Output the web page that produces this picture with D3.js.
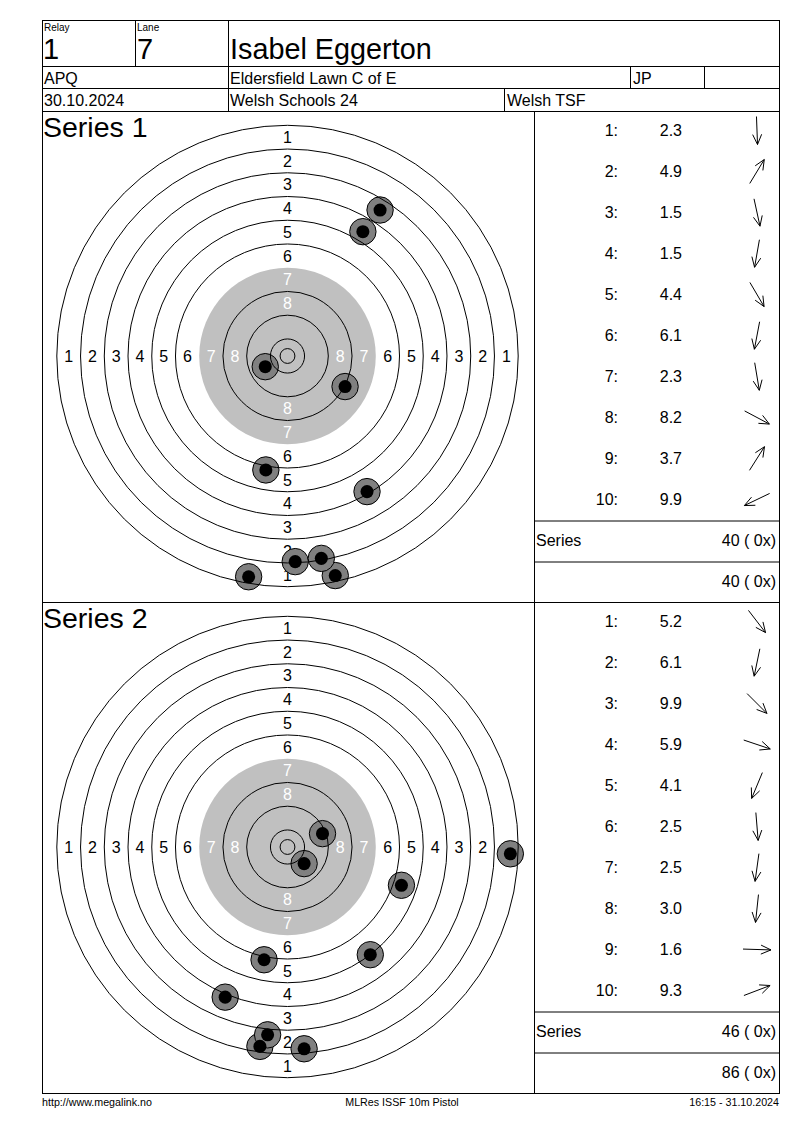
<!doctype html>
<html>
  <head>
    <meta charset="utf-8">
    <title>MLRes ISSF 10m Pistol</title>
    <script src="https://d3js.org/d3.v7.min.js"></script>
    <style type="text/css">
      body { margin: 0; background: #fff; }
      text { font-family: "Liberation Sans", Arial, sans-serif; fill: #000; }
    </style>
  </head>
  <body>
    <svg></svg>
    <script type="text/javascript">
      // header
      var relay = '1',
        lane = '7',
        shooter = 'Isabel Eggerton',
        shooterClass = 'APQ',
        club = 'Eldersfield Lawn C of E',
        nation = 'JP',
        eventDate = '30.10.2024',
        competition = 'Welsh Schools 24',
        organiser = 'Welsh TSF';

      var seriesNames = ['Series 1', 'Series 2'];

      // shot values (decimal) per series
      var series1Scores = [2.3, 4.9, 1.5, 1.5, 4.4, 6.1, 2.3, 8.2, 3.7, 9.9];
      var series2Scores = [5.2, 6.1, 9.9, 5.9, 4.1, 2.5, 2.5, 3.0, 1.6, 9.3];

      // shot positions in mm from target centre (x right, y up)
      var series1X = [2.6, 25.4, 16.1, -13.1, 26.8, -7.3, 11.4, 19.4, 31.2, -7.5];
      var series1Y = [-69.3, 41.9, -74.0, -74.4, -45.7, -38.4, -68.2, -10.3, 49.2, -3.6];
      var series2X = [27.9, -7.9, 5.6, 38.4, -21.0, 5.6, -9.3, -6.7, 75.1, 11.8];
      var series2Y = [-36.3, -38.0, -5.6, -12.9, -50.6, -68.0, -67.2, -63.3, -2.3, 4.5];

      var seriesTotals = ['40 ( 0x)', '46 ( 0x)'];
      var runningTotals = ['40 ( 0x)', '86 ( 0x)'];

      // ISSF 10m pistol rings (radius in mm) and ring labels
      var ringRadii = [77.75, 69.75, 61.75, 53.75, 45.75, 37.75, 29.75, 21.75, 13.75, 5.75];
      var innerTen = 2.5;
      var blackRadius = 29.75;
      var ringLabels = [1, 2, 3, 4, 5, 6, 7, 8];

      var footerLeft = 'http://www.megalink.no',
        footerMid = 'MLRes ISSF 10m Pistol',
        footerRight = '16:15 - 31.10.2024';

      var w = 800,
        h = 1130;
      var L = 42.5, R = 779.5, T = 20.5;
      var colX = 534.5;
      var seriesTop = [111.5, 602.5], seriesH = 491;

      var svg = d3.select('svg')
        .attr('width', w)
        .attr('height', h);

      function hline(x1, x2, y) {
        svg.append('line').attr('x1', x1).attr('x2', x2).attr('y1', y).attr('y2', y)
          .attr('stroke', '#000').attr('stroke-width', 1);
      }

      function vline(x, y1, y2) {
        svg.append('line').attr('x1', x).attr('x2', x).attr('y1', y1).attr('y2', y2)
          .attr('stroke', '#000').attr('stroke-width', 1);
      }

      function label(x, y, s, size, anchor, color) {
        return svg.append('text')
          .attr('x', x).attr('y', y)
          .attr('font-size', size)
          .attr('text-anchor', anchor || 'start')
          .style('fill', color || '#000')
          .text(s);
      }

      // header grid
      svg.append('rect').attr('x', L).attr('y', T).attr('width', R - L).attr('height', 1073)
        .attr('fill', 'none').attr('stroke', '#000');
      hline(L, R, 66.5);
      hline(L, R, 88.5);
      hline(L, R, 111.5);
      vline(135.5, T, 66.5);
      vline(228.5, T, 111.5);
      vline(630.5, 66.5, 88.5);
      vline(704.5, 66.5, 88.5);
      vline(504.5, 88.5, 111.5);

      label(44, 30.5, 'Relay', 10);
      label(137, 30.5, 'Lane', 10);
      label(43, 58.5, relay, 29);
      label(137, 58.5, lane, 29);
      label(230, 58.5, shooter, 28.8);
      label(44, 83.5, shooterClass, 16);
      label(230, 83.5, club, 16);
      label(633, 83.5, nation, 16);
      label(44, 106, eventDate, 16);
      label(230, 106, competition, 16);
      label(507, 106, organiser, 16);

      var allScores = [series1Scores, series2Scores];
      var allX = [series1X, series2X];
      var allY = [series1Y, series2Y];

      seriesNames.forEach(function(name, s) {
        var top = seriesTop[s];
        var cx = 287.5,
          cy = top + 244.5;
        var half = 230.7;

        hline(L, R, top + seriesH);
        vline(colX, top, top + seriesH);

        var xScale = d3.scaleLinear().domain([-77.75, 77.75]).range([cx - half, cx + half]);
        var yScale = d3.scaleLinear().domain([-77.75, 77.75]).range([cy + half, cy - half]);
        var rad = function(mm) { return xScale(mm) - xScale(0); };

        var g = svg.append('g');

        g.append('circle')
          .attr('cx', xScale(0)).attr('cy', yScale(0))
          .attr('r', rad(blackRadius))
          .attr('fill', '#c0c0c0');

        // ring numbers in the middle of each band, on the four axes
        var dirs = [[0, 1], [0, -1], [-1, 0], [1, 0]];
        dirs.forEach(function(d) {
          g.selectAll(null)
            .data(ringLabels)
            .enter()
            .append('text')
            .attr('x', function(n) { return xScale(d[0] * (ringRadii[n - 1] - 4)); })
            .attr('y', function(n) { return yScale(d[1] * (ringRadii[n - 1] - 4)) + 5.8; })
            .attr('font-size', 16)
            .attr('text-anchor', 'middle')
            .style('fill', function(n) { return n >= 7 ? '#fff' : '#000'; })
            .text(function(n) { return n; });
        });

        // shots
        var shots = allScores[s].map(function(v, i) {
          return { n: i + 1, v: v, x: allX[s][i], y: allY[s][i] };
        });

        g.selectAll('circle.hole')
          .data(shots)
          .enter()
          .append('circle')
          .attr('class', 'hole')
          .attr('cx', function(d) { return xScale(d.x); })
          .attr('cy', function(d) { return yScale(d.y); })
          .attr('r', rad(4.45))
          .attr('fill', '#808080')
          .attr('stroke', '#000')
          .attr('stroke-width', 1);

        g.selectAll('circle.dot')
          .data(shots)
          .enter()
          .append('circle')
          .attr('class', 'dot')
          .attr('cx', function(d) { return xScale(d.x); })
          .attr('cy', function(d) { return yScale(d.y); })
          .attr('r', rad(2.2))
          .attr('fill', '#000');

        // ring lines on top
        g.selectAll('circle.ring')
          .data(ringRadii.filter(function(r) { return r !== blackRadius; }).concat([innerTen]))
          .enter()
          .append('circle')
          .attr('class', 'ring')
          .attr('cx', xScale(0)).attr('cy', yScale(0))
          .attr('r', function(r) { return rad(r); })
          .attr('fill', 'none')
          .attr('stroke', '#000')
          .attr('stroke-width', 1);

        label(43, top + 25.5, name, 28.5);

        // shot list
        var rowY = d3.scaleLinear().domain([1, 10]).range([top + 19, top + 388]);

        svg.selectAll(null)
          .data(shots)
          .enter()
          .append('text')
          .attr('x', 618)
          .attr('y', function(d) { return rowY(d.n) + 5.8; })
          .attr('font-size', 16)
          .attr('text-anchor', 'end')
          .text(function(d) { return d.n + ':'; });

        svg.selectAll(null)
          .data(shots)
          .enter()
          .append('text')
          .attr('x', 682)
          .attr('y', function(d) { return rowY(d.n) + 5.8; })
          .attr('font-size', 16)
          .attr('text-anchor', 'end')
          .text(function(d) { return d.v.toFixed(1); });

        // direction arrows
        var len = 28, head = 11, spread = 0.42;
        svg.selectAll(null)
          .data(shots)
          .enter()
          .append('path')
          .attr('fill', 'none')
          .attr('stroke', '#000')
          .attr('stroke-width', 1)
          .attr('d', function(d) {
            var a = Math.atan2(-d.y, d.x);
            var ux = Math.cos(a), uy = Math.sin(a);
            var mx = 757, my = rowY(d.n);
            var x0 = mx - ux * len / 2, y0 = my - uy * len / 2;
            var x1 = mx + ux * len / 2, y1 = my + uy * len / 2;
            var p = d3.path();
            p.moveTo(x0, y0);
            p.lineTo(x1, y1);
            p.moveTo(x1 - head * Math.cos(a - spread), y1 - head * Math.sin(a - spread));
            p.lineTo(x1, y1);
            p.lineTo(x1 - head * Math.cos(a + spread), y1 - head * Math.sin(a + spread));
            return p.toString();
          });

        hline(colX, R, top + 409.5);
        hline(colX, R, top + 450.5);
        label(536, top + 434.5, 'Series', 16);
        label(776, top + 434.5, seriesTotals[s], 16, 'end');
        label(776, top + 475.5, runningTotals[s], 16, 'end');
      });

      // footer
      label(42, 1106, footerLeft, 10.7);
      label(402, 1106, footerMid, 10.7, 'middle');
      label(779, 1106, footerRight, 10.7, 'end');
    </script>
  </body>
</html>
